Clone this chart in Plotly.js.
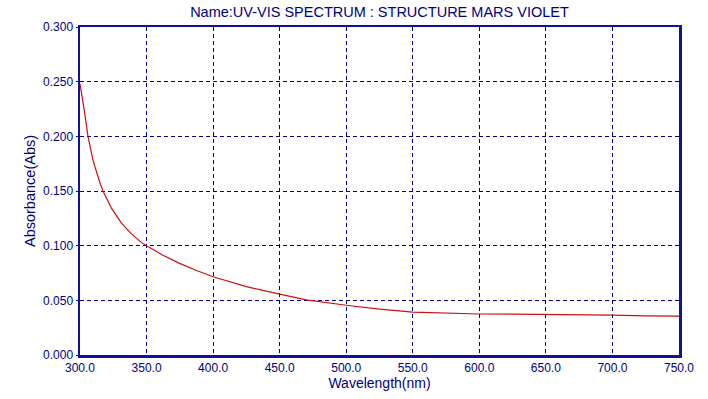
<!DOCTYPE html>
<html>
<head>
<meta charset="utf-8">
<script src="https://cdn.plot.ly/plotly-3.0.1.min.js"></script>
<style>
html,body{margin:0;padding:0;background:#fff;}
#chart{width:708px;height:399px;}
</style>
</head>
<body>
<div id="chart"></div>
<script>
const wavelength = [300, 300.5, 303.5, 306, 309.8, 314.8, 317.3, 323.5, 331, 338.5, 346, 350, 362, 374, 387, 400, 425, 450, 470, 500, 525, 550, 575, 600, 625, 650, 675, 700, 725, 750];
const absorbance = [0.248, 0.2445, 0.2215, 0.200, 0.178, 0.158, 0.150, 0.1345, 0.1208, 0.1110, 0.1030, 0.100, 0.0915, 0.0843, 0.0775, 0.0716, 0.0625, 0.0557, 0.0505, 0.0455, 0.0420, 0.0393, 0.0382, 0.0375, 0.0374, 0.0372, 0.0368, 0.0364, 0.0358, 0.0355];
const xTicks = [300, 350, 400, 450, 500, 550, 600, 650, 700, 750];
const yTicks = [0, 0.05, 0.10, 0.15, 0.20, 0.25, 0.30];

const navy = '#000080';
const axisBlue = '#1010a0';
const fam = 'Liberation Sans, Arial, sans-serif';
const font = {family: fam, size: 12, color: navy};

const trace = {
  x: wavelength, y: absorbance, type: 'scatter', mode: 'lines',
  line: {color: '#cc1010', width: 1.2, shape: 'linear'},
  hoverinfo: 'skip'
};

const layout = {
  width: 708, height: 399,
  margin: {l: 80, r: 29, t: 27, b: 44},
  paper_bgcolor: '#fff', plot_bgcolor: '#fff',
  showlegend: false,
  font: font,
  title: {text: 'Name:UV-VIS SPECTRUM : STRUCTURE MARS VIOLET', font: {family: fam, size: 14.5, color: navy}, x: 0.536, xanchor: 'center', y: 0.97, yanchor: 'middle'},
  xaxis: {
    range: [300, 750], tickvals: xTicks, ticktext: xTicks.map(v => v.toFixed(1)),
    showgrid: true, gridcolor: navy, griddash: '4px,3px', gridwidth: 1,
    showline: true, linecolor: axisBlue, linewidth: 2.5, mirror: true,
    ticks: '', ticklabelstandoff: 0, zeroline: false,
    tickfont: font,
    title: {text: 'Wavelength(nm)', font: {family: fam, size: 14, color: navy}, standoff: 2}
  },
  yaxis: {
    range: [0, 0.3], tickvals: yTicks, ticktext: yTicks.map(v => v.toFixed(3)),
    showgrid: true, gridcolor: navy, griddash: '4px,3px', gridwidth: 1,
    showline: true, linecolor: axisBlue, linewidth: 2.5, mirror: true,
    ticks: 'outside', ticklen: 2, tickcolor: axisBlue, zeroline: false,
    tickfont: font,
    title: {text: 'Absorbance(Abs)', font: {family: fam, size: 14.5, color: navy}, standoff: 4}
  }
};

Plotly.newPlot('chart', [trace], layout, {staticPlot: true, displayModeBar: false});
</script>
</body>
</html>
